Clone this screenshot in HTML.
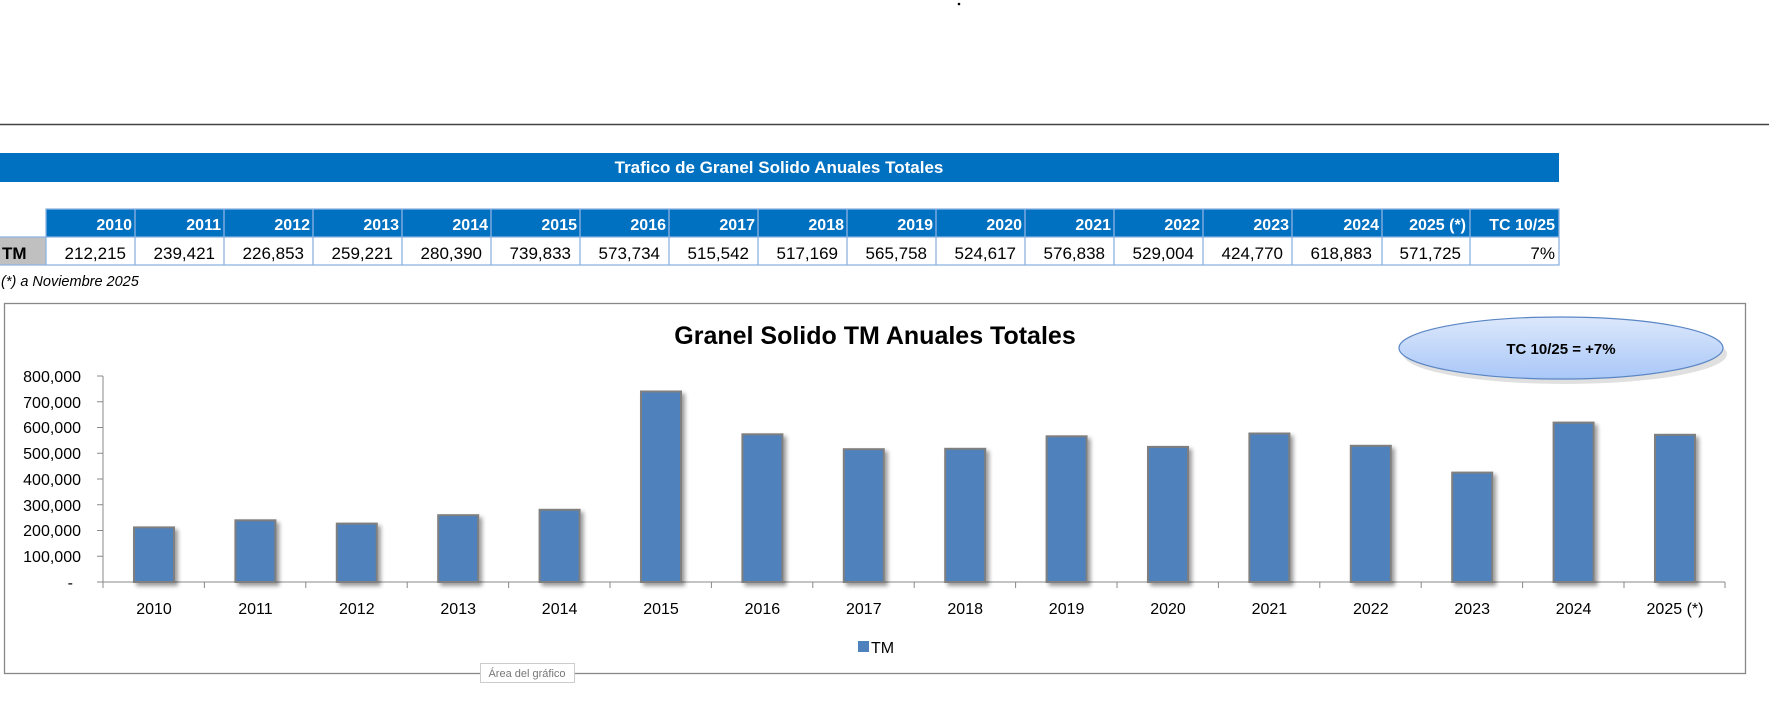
<!DOCTYPE html>
<html><head><meta charset="utf-8"><style>
body{margin:0;width:1769px;height:703px;background:#fff;position:relative;overflow:hidden;font-family:"Liberation Sans",sans-serif}
</style></head><body>
<svg width="1769" height="703" xmlns="http://www.w3.org/2000/svg" style="position:absolute;left:0;top:0" font-family="Liberation Sans, sans-serif">
<defs>
<linearGradient id="eg" x1="0" y1="0" x2="0" y2="1"><stop offset="0" stop-color="#dce8fc"/><stop offset="1" stop-color="#a9c7f7"/></linearGradient>
<filter id="sh" x="-20%" y="-20%" width="150%" height="150%"><feGaussianBlur in="SourceAlpha" stdDeviation="2"/><feOffset dx="3" dy="3"/><feComponentTransfer><feFuncA type="linear" slope="0.4"/></feComponentTransfer><feMerge><feMergeNode/><feMergeNode in="SourceGraphic"/></feMerge></filter>
</defs>
<circle cx="959" cy="4" r="1.3" fill="#000"/>
<line x1="0" y1="124.5" x2="1769" y2="124.5" stroke="#444" stroke-width="1.5"/>
<rect x="0" y="153" width="1559" height="29" fill="#0070c0"/>
<text x="779" y="173" text-anchor="middle" font-size="17" font-weight="bold" fill="#fff">Trafico de Granel Solido Anuales Totales</text>
<rect x="46" y="209" width="1513" height="28" fill="#0070c0"/>
<rect x="0" y="237" width="46" height="28" fill="#c0c0c0"/>
<g stroke="#8db3e2" stroke-width="1.3" fill="none">
<rect x="46" y="209" width="1513" height="56"/>
<line x1="0" y1="237" x2="1559" y2="237"/><line x1="0" y1="265" x2="46" y2="265"/>
<line x1="135" y1="209" x2="135" y2="265"/><line x1="224" y1="209" x2="224" y2="265"/><line x1="313" y1="209" x2="313" y2="265"/><line x1="402" y1="209" x2="402" y2="265"/><line x1="491" y1="209" x2="491" y2="265"/><line x1="580" y1="209" x2="580" y2="265"/><line x1="669" y1="209" x2="669" y2="265"/><line x1="758" y1="209" x2="758" y2="265"/><line x1="847" y1="209" x2="847" y2="265"/><line x1="936" y1="209" x2="936" y2="265"/><line x1="1025" y1="209" x2="1025" y2="265"/><line x1="1114" y1="209" x2="1114" y2="265"/><line x1="1203" y1="209" x2="1203" y2="265"/><line x1="1292" y1="209" x2="1292" y2="265"/><line x1="1382" y1="209" x2="1382" y2="265"/><line x1="1470" y1="209" x2="1470" y2="265"/>
</g>
<g font-size="16" font-weight="bold" fill="#fff" text-anchor="end">
<text x="132" y="230">2010</text><text x="221" y="230">2011</text><text x="310" y="230">2012</text><text x="399" y="230">2013</text><text x="488" y="230">2014</text><text x="577" y="230">2015</text><text x="666" y="230">2016</text><text x="755" y="230">2017</text><text x="844" y="230">2018</text><text x="933" y="230">2019</text><text x="1022" y="230">2020</text><text x="1111" y="230">2021</text><text x="1200" y="230">2022</text><text x="1289" y="230">2023</text><text x="1379" y="230">2024</text><text x="1466" y="230">2025 (*)</text><text x="1555" y="230">TC 10/25</text>
</g>
<text x="2" y="259" font-size="17" font-weight="bold">TM</text>
<g font-size="17" fill="#000" text-anchor="end">
<text x="126" y="259">212,215</text><text x="215" y="259">239,421</text><text x="304" y="259">226,853</text><text x="393" y="259">259,221</text><text x="482" y="259">280,390</text><text x="571" y="259">739,833</text><text x="660" y="259">573,734</text><text x="749" y="259">515,542</text><text x="838" y="259">517,169</text><text x="927" y="259">565,758</text><text x="1016" y="259">524,617</text><text x="1105" y="259">576,838</text><text x="1194" y="259">529,004</text><text x="1283" y="259">424,770</text><text x="1372" y="259">618,883</text><text x="1461" y="259">571,725</text><text x="1555" y="259">7%</text>
</g>
<text x="1" y="286" font-size="14.5" font-style="italic">(*) a Noviembre 2025</text>
<rect x="4.5" y="303.5" width="1741" height="370" fill="#fff" stroke="#888" stroke-width="1.3"/>
<text x="875" y="344" text-anchor="middle" font-size="25" font-weight="bold">Granel Solido TM Anuales Totales</text>
<ellipse cx="1563" cy="350" rx="162" ry="30" fill="#000" opacity="0.12" transform="translate(2,4)"/>
<ellipse cx="1561" cy="348" rx="162" ry="31" fill="url(#eg)" stroke="#5b86c4" stroke-width="1.2"/>
<text x="1561" y="354" text-anchor="middle" font-size="15" font-weight="bold">TC 10/25 = +7%</text>
<g stroke="#888" stroke-width="1">
<line x1="103" y1="376" x2="103" y2="582"/><line x1="103" y1="582" x2="1725" y2="582"/>
<line x1="97" y1="376" x2="103" y2="376"/><line x1="97" y1="401.75" x2="103" y2="401.75"/><line x1="97" y1="427.5" x2="103" y2="427.5"/><line x1="97" y1="453.25" x2="103" y2="453.25"/><line x1="97" y1="479" x2="103" y2="479"/><line x1="97" y1="504.75" x2="103" y2="504.75"/><line x1="97" y1="530.5" x2="103" y2="530.5"/><line x1="97" y1="556.25" x2="103" y2="556.25"/><line x1="97" y1="582" x2="103" y2="582"/>
<line x1="103" y1="582" x2="103" y2="588"/><line x1="204.4" y1="582" x2="204.4" y2="588"/><line x1="305.8" y1="582" x2="305.8" y2="588"/><line x1="407.2" y1="582" x2="407.2" y2="588"/><line x1="508.6" y1="582" x2="508.6" y2="588"/><line x1="610" y1="582" x2="610" y2="588"/><line x1="711.4" y1="582" x2="711.4" y2="588"/><line x1="812.8" y1="582" x2="812.8" y2="588"/><line x1="914.2" y1="582" x2="914.2" y2="588"/><line x1="1015.6" y1="582" x2="1015.6" y2="588"/><line x1="1117" y1="582" x2="1117" y2="588"/><line x1="1218.4" y1="582" x2="1218.4" y2="588"/><line x1="1319.8" y1="582" x2="1319.8" y2="588"/><line x1="1421.2" y1="582" x2="1421.2" y2="588"/><line x1="1522.6" y1="582" x2="1522.6" y2="588"/><line x1="1624" y1="582" x2="1624" y2="588"/><line x1="1725" y1="582" x2="1725" y2="588"/>
</g>
<g font-size="16" text-anchor="end">
<text x="81" y="382">800,000</text><text x="81" y="408">700,000</text><text x="81" y="433">600,000</text><text x="81" y="459">500,000</text><text x="81" y="485">400,000</text><text x="81" y="511">300,000</text><text x="81" y="536">200,000</text><text x="81" y="562">100,000</text><text x="73" y="588">-</text>
</g>
<g fill="#4f81bd" stroke="#7f7f7f" stroke-width="2" filter="url(#sh)">
<rect x="134" y="527.4" width="40" height="54.6"/><rect x="235.4" y="520.3" width="40" height="61.7"/><rect x="336.8" y="523.6" width="40" height="58.4"/><rect x="438.2" y="515.2" width="40" height="66.8"/><rect x="539.6" y="509.8" width="40" height="72.2"/><rect x="641" y="391.5" width="40" height="190.5"/><rect x="742.4" y="434.3" width="40" height="147.7"/><rect x="843.8" y="449.2" width="40" height="132.8"/><rect x="945.2" y="448.8" width="40" height="133.2"/><rect x="1046.6" y="436.3" width="40" height="145.7"/><rect x="1148" y="446.9" width="40" height="135.1"/><rect x="1249.4" y="433.5" width="40" height="148.5"/><rect x="1350.8" y="445.8" width="40" height="136.2"/><rect x="1452.2" y="472.6" width="40" height="109.4"/><rect x="1553.6" y="422.6" width="40" height="159.4"/><rect x="1655" y="434.8" width="40" height="147.2"/>
</g>
<g font-size="16" text-anchor="middle">
<text x="154" y="614">2010</text><text x="255.4" y="614">2011</text><text x="356.8" y="614">2012</text><text x="458.2" y="614">2013</text><text x="559.6" y="614">2014</text><text x="661" y="614">2015</text><text x="762.4" y="614">2016</text><text x="863.8" y="614">2017</text><text x="965.2" y="614">2018</text><text x="1066.6" y="614">2019</text><text x="1168" y="614">2020</text><text x="1269.4" y="614">2021</text><text x="1370.8" y="614">2022</text><text x="1472.2" y="614">2023</text><text x="1573.6" y="614">2024</text><text x="1675" y="614">2025 (*)</text>
</g>
<rect x="858" y="641" width="11" height="11" fill="#4f81bd"/>
<text x="871" y="653" font-size="16">TM</text>
<rect x="480.5" y="663.5" width="94" height="19" fill="#fff" stroke="#ccc"/>
<text x="527" y="677" text-anchor="middle" font-size="11" fill="#777">Área del gráfico</text>
</svg>
</body></html>
